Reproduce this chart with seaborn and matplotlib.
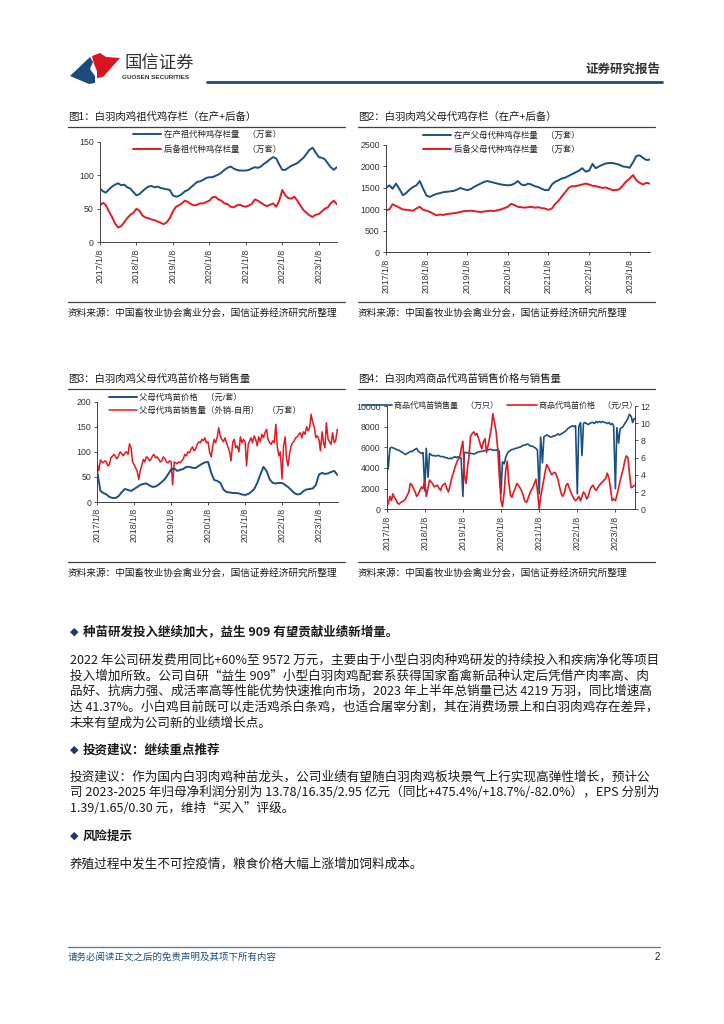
import matplotlib
matplotlib.use('Agg')
import matplotlib.pyplot as plt
from matplotlib.lines import Line2D
from matplotlib.patches import Polygon
import pandas as pd
import seaborn as sns

# ---- data (monthly / semi-monthly) ----
c1_zaichan = [80, 76, 74, 79, 83, 86, 88, 85, 86, 82, 80, 75,
              70, 72, 76, 80, 83, 84, 82, 83, 81, 80, 79, 78,
              70, 68, 69, 72, 76, 78, 82, 86, 90, 91, 93, 96,
              97, 97, 99, 101, 104, 108, 111, 113, 110, 108, 107, 107,
              107, 108, 110, 112, 111, 113, 117, 120, 124, 127, 125, 116,
              108, 108, 111, 114, 116, 118, 122, 126, 132, 138, 141, 134,
              127, 126, 124, 118, 112, 108, 112]
c1_houbei = [55, 59, 55, 46, 38, 28, 22, 24, 30, 36, 41, 44,
             50, 47, 40, 37, 36, 34, 33, 31, 29, 27, 30, 36,
             46, 53, 55, 58, 62, 60, 57, 55, 56, 58, 58, 60,
             62, 67, 68, 64, 62, 58, 57, 53, 52, 55, 56, 54,
             53, 55, 57, 64, 62, 59, 56, 54, 56, 58, 53, 62,
             78, 70, 66, 65, 68, 62, 55, 48, 44, 40, 38, 41,
             42, 46, 50, 52, 58, 62, 57]

c2_zaichan = [1500, 1560, 1480, 1600, 1480, 1330, 1380, 1460, 1520, 1560, 1660, 1480,
              1320, 1290, 1330, 1360, 1380, 1400, 1410, 1420, 1430, 1460, 1500, 1470,
              1450, 1470, 1520, 1560, 1600, 1640, 1660, 1640, 1620, 1600, 1580, 1570,
              1560, 1570, 1600, 1660, 1580, 1560, 1600, 1580, 1540, 1520, 1480, 1450,
              1450, 1580, 1640, 1680, 1720, 1740, 1780, 1820, 1860, 1900, 1960, 1880,
              1900, 2060, 1960, 2000, 2040, 2070, 2080, 2080, 2060, 2040, 2000, 1990,
              1970, 2100, 2240, 2260, 2200, 2150, 2160]
c2_houbei = [980, 1000, 1120, 1080, 1040, 1000, 990, 980, 970, 1020, 1060, 990,
             970, 940, 900, 860, 880, 870, 890, 900, 910, 920, 940, 960,
             960, 970, 960, 950, 940, 950, 960, 970, 960, 980, 1000, 1030,
             1060, 1130, 1100, 1060, 1050, 1040, 1050, 1060, 1040, 1050, 1030, 1020,
             990, 1020, 1120, 1200, 1300, 1400, 1500, 1540, 1540, 1560, 1580, 1600,
             1580, 1550, 1540, 1520, 1500, 1510, 1480, 1450, 1450, 1470, 1560, 1650,
             1720, 1800, 1680, 1620, 1580, 1620, 1600]

c3_price = [60, 22, 18, 15, 10, 8, 8, 12, 20, 26, 24, 22,
            26, 30, 34, 36, 37, 33, 30, 31, 35, 40, 46, 55,
            65, 67, 62, 64, 66, 70, 70, 68, 68, 72, 76, 79,
            80, 58, 44, 42, 38, 25, 20, 19, 18, 18, 17, 15,
            14, 16, 20, 26, 38, 55, 70, 62, 45, 38, 37, 38,
            38, 34, 30, 24, 18, 15, 16, 22, 25, 26, 27, 34,
            55, 58, 56, 57, 60, 62, 54]
c3_sales = [75, 62, 84, 80, 78, 82, 80, 72, 75, 88, 92, 95, 90, 86, 93, 100, 96, 92, 98, 100, 95, 116, 108, 80,
            74, 68, 60, 45, 62, 72, 85, 80, 90, 88, 82, 85, 92, 95, 88, 90, 85, 80, 82, 90, 86, 80, 78, 82,
            80, 34, 80, 78, 76, 80, 78, 82, 86, 95, 92, 100, 98, 105, 110, 102, 106, 115, 120, 118, 125, 122, 128, 118,
            120, 100, 90, 110, 125, 118, 130, 148, 132, 125, 120, 128, 118, 110, 100, 82, 120, 125, 108, 112, 100, 130, 118, 125,
            120, 72, 115, 122, 128, 118, 132, 125, 112, 130, 120, 135, 128, 138, 145, 125, 118, 115, 122, 118, 155, 110, 92, 100,
            46, 110, 130, 85, 72, 95, 112, 118, 122, 128, 130, 135, 138, 128, 140, 135, 150, 142, 148, 175, 158, 150, 128, 132,
            125, 102, 140, 118, 108, 158, 125, 120, 115, 138, 118, 122, 145]

c4_sales = [6000, 3900, 5900, 6000, 5950, 5900, 5800, 5750, 5700, 5600, 5500, 5400, 5300, 5400, 5500, 5600, 5600, 5700, 5800, 5900, 5600, 5500, 5400, 5500,
            1800, 5900, 3100, 5400, 5300, 5200, 5200, 5150, 5200, 5200, 5100, 5100, 5100, 5000, 5000, 4900, 4950, 4900, 5000, 5100, 5000, 5100, 5000, 4950,
            1250, 5500, 5500, 5450, 5500, 5400, 5400, 5350, 5400, 5500, 5550, 5600, 5600, 5650, 5700, 5700, 5750, 5800, 5800, 5700, 5750, 5700, 5800, 5600,
            1550, 4600, 4400, 5000, 5400, 5600, 5700, 5800, 5800, 5900, 5900, 6000, 6000, 6100, 6200, 6200, 6300, 6300, 6200, 6100, 6100, 6000, 5900, 5700,
            1500, 7000, 4500, 7000, 7100, 7200, 7100, 7000, 7000, 7100, 7100, 7200, 7300, 7200, 7300, 7400, 7500, 7600, 7800, 7900, 8000, 8100, 8000, 8100,
            1500, 8000, 8400, 5200, 8300, 8400, 8300, 8200, 8300, 8400, 8400, 8300, 8500, 8400, 8500, 8400, 8500, 8400, 8400, 8300, 8400, 8200, 8300, 8100,
            2000, 7900, 6400, 7800, 7900, 8000, 8300, 8500, 8800, 9200, 9000, 8400, 8800]
c4_price = [1.3, 0.6, 1.5, 1.0, 1.8, 1.4, 1.1, 0.7, 0.6, 0.8, 0.9, 1.0, 1.2, 1.6, 2.0, 3.0, 2.8, 2.4, 2.0, 1.5, 1.8, 2.2, 2.6, 2.4,
            3.4, 1.5, 2.5, 3.4, 3.2, 3.0, 2.6, 2.7, 2.8, 2.5, 2.2, 2.7, 2.9, 3.0, 2.4, 2.0, 2.8, 3.6, 4.2, 4.8, 5.4, 5.8, 6.0, 7.0,
            7.9, 4.0, 3.0, 5.0, 6.2, 8.5, 8.8, 9.0, 8.6, 8.8, 8.2, 7.6, 7.0, 7.8, 8.2, 6.6, 7.5, 8.4, 9.5, 11.1, 10.0, 9.0, 7.0, 4.0,
            1.0, 0.3, 2.0, 4.5, 5.6, 3.2, 1.6, 1.4, 2.0, 2.4, 3.0, 2.8, 2.5, 2.2, 1.6, 1.0, 0.8, 1.2, 1.8, 2.2, 2.5, 3.0, 3.5, 2.2,
            0.0, 1.5, 2.6, 3.5, 4.5, 5.2, 4.8, 4.4, 4.0, 4.2, 4.3, 4.0, 3.4, 2.6, 1.8, 1.5, 2.0, 2.8, 3.0, 2.5, 2.0, 1.6, 1.2, 1.0,
            1.2, 1.5, 1.0, 1.5, 2.0, 1.8, 1.2, 1.5, 2.2, 2.6, 2.8, 2.4, 2.2, 2.5, 2.8, 3.0, 3.2, 3.4, 3.6, 4.2, 3.6, 2.4, 1.0, 1.2,
            1.0, 1.6, 2.5, 3.2, 4.0, 4.6, 5.6, 6.2, 6.0, 4.2, 2.5, 2.6, 2.8]

tick_dates = ['2017-01-08', '2018-01-08', '2019-01-08', '2020-01-08',
              '2021-01-08', '2022-01-08', '2023-01-08']

BLUE = '#1b4f85'
RED = '#e11b22'
GREY = '#404040'

def monthly(vals):
    return pd.date_range('2017-01-01', periods=len(vals), freq='MS') + pd.Timedelta(days=7)

def semimonthly(vals):
    return pd.date_range('2017-01-01', periods=len(vals), freq='SMS') + pd.Timedelta(days=7)

sns.set_theme(style='white')
plt.rcParams['font.family'] = ['Liberation Sans', 'Noto Sans CJK SC', 'DejaVu Sans']
plt.rcParams['axes.unicode_minus'] = False

W, H = 724, 1024
fig = plt.figure(figsize=(W / 100, H / 100), dpi=100)
fig.patch.set_facecolor('white')

def rect(l, t, r, b):
    return [l / W, 1 - b / H, (r - l) / W, (b - t) / H]

def hline(x0, x1, y, color=GREY, lw=0.8):
    fig.add_artist(Line2D([x0 / W, x1 / W], [1 - y / H, 1 - y / H],
                          transform=fig.transFigure, color=color, lw=lw))

def text(x, y, s, **kw):
    kw.setdefault('va', 'center')
    fig.text(x / W, 1 - y / H, s, **kw)

def style_axis(ax, ylim, yticks):
    ax.set_xlim(pd.Timestamp('2017-01-08'), pd.Timestamp('2023-07-10'))
    ax.set_ylim(*ylim)
    ax.set_yticks(yticks)
    ticks = pd.to_datetime(tick_dates)
    ax.set_xticks(ticks)
    ax.set_xticklabels([f'{d.year}/{d.month}/{d.day}' for d in ticks], rotation=90)
    for s in ['top', 'right']:
        ax.spines[s].set_visible(False)
    for s in ['left', 'bottom']:
        ax.spines[s].set_color(GREY)
        ax.spines[s].set_linewidth(0.7)
    ax.tick_params(axis='both', labelsize=6.3, colors='#333333', length=2.5,
                   width=0.6, pad=2, bottom=True, left=True)
    ax.set_xlabel('')
    ax.set_ylabel('')
    ax.set_facecolor('none')

def place_legend(ax, x, y, lw_len, spacing, **kw):
    leg = ax.legend(loc='upper left', bbox_to_anchor=(x / W, 1 - y / H),
                    bbox_transform=fig.transFigure, frameon=False, fontsize=6,
                    borderpad=0, borderaxespad=0, handlelength=lw_len,
                    handletextpad=0.3, labelspacing=spacing, **kw)
    for t in leg.get_texts():
        t.set_color('#222222')
    return leg

# ---- chart 1 ----
ax1 = fig.add_axes(rect(100, 141.7, 337, 242.3))
sns.lineplot(x=monthly(c1_zaichan), y=c1_zaichan, ax=ax1, color=BLUE, lw=1.4,
             label='在产祖代种鸡存栏量　（万套）')
sns.lineplot(x=monthly(c1_houbei), y=c1_houbei, ax=ax1, color=RED, lw=1.4,
             label='后备祖代种鸡存栏量　（万套）')
style_axis(ax1, (0, 150), [0, 50, 100, 150])
place_legend(ax1, 133, 130.5, 3.4, 0.7)

# ---- chart 2 ----
ax2 = fig.add_axes(rect(386, 145, 650, 252.3))
sns.lineplot(x=monthly(c2_zaichan), y=c2_zaichan, ax=ax2, color=BLUE, lw=1.4,
             label='在产父母代种鸡存栏量　（万套）')
sns.lineplot(x=monthly(c2_houbei), y=c2_houbei, ax=ax2, color=RED, lw=1.4,
             label='后备父母代种鸡存栏量　（万套）')
style_axis(ax2, (0, 2500), [0, 500, 1000, 1500, 2000, 2500])
place_legend(ax2, 423, 131.5, 3.4, 0.7)

# ---- chart 3 ----
ax3 = fig.add_axes(rect(97.3, 401.7, 337.5, 502))
sns.lineplot(x=monthly(c3_price), y=c3_price, ax=ax3, color=BLUE, lw=1.4,
             label='父母代鸡苗价格　（元/套）', zorder=3)
sns.lineplot(x=semimonthly(c3_sales), y=c3_sales, ax=ax3, color=RED, lw=1.1,
             label='父母代鸡苗销售量（外销-自用）　（万套）', zorder=2)
style_axis(ax3, (0, 200), [0, 50, 100, 150, 200])
place_legend(ax3, 109, 393.5, 3.3, 0.55)

# ---- chart 4 ----
ax4 = fig.add_axes(rect(386.7, 406, 634.5, 509.3))
ax4r = ax4.twinx()
sns.lineplot(x=semimonthly(c4_sales), y=c4_sales, ax=ax4, color=BLUE, lw=1.2,
             label='商品代鸡苗销售量　（万只）')
sns.lineplot(x=semimonthly(c4_price), y=c4_price, ax=ax4r, color=RED, lw=1.2,
             label='商品代鸡苗价格　（元/只）')
style_axis(ax4, (0, 10000), [0, 2000, 4000, 6000, 8000, 10000])
ax4r.set_ylim(0, 12)
ax4r.set_yticks([0, 2, 4, 6, 8, 10, 12])
ax4r.set_ylabel('')
for s in ['top', 'left', 'bottom']:
    ax4r.spines[s].set_visible(False)
ax4r.spines['right'].set_color(GREY)
ax4r.spines['right'].set_linewidth(0.7)
ax4r.tick_params(axis='y', labelsize=6.3, colors='#333333', length=2.5, width=0.6,
                 pad=2, right=True)
if ax4.get_legend() is not None:
    ax4.get_legend().remove()
h1, l1 = ax4.get_legend_handles_labels()
h2, l2 = ax4r.get_legend_handles_labels()
leg4 = ax4r.legend(h1 + h2, l1 + l2, loc='upper left', ncol=2,
                   bbox_to_anchor=(362 / W, 1 - 402 / H), bbox_transform=fig.transFigure,
                   frameon=False, fontsize=5.8, borderpad=0, borderaxespad=0,
                   handlelength=3.7, handletextpad=0.3, columnspacing=1.1)
leg4.set_zorder(10)

# ---- chart frames: titles, rules, sources ----
src = '资料来源：中国畜牧业协会禽业分会，国信证券经济研究所整理'
for x0, x1, ty, t0, b0, title in [
        (68, 345, 116.5, 126.5, 302, '图1：白羽肉鸡祖代鸡存栏（在产+后备）'),
        (358, 655, 116.5, 126.5, 302, '图2：白羽肉鸡父母代鸡存栏（在产+后备）'),
        (68, 345, 379, 388.5, 562, '图3：白羽肉鸡父母代鸡苗价格与销售量'),
        (358, 655, 379, 388.5, 562, '图4：白羽肉鸡商品代鸡苗销售价格与销售量')]:
    text(x0, ty, title, fontsize=7.5, color='#1a1a1a')
    hline(x0, x1, t0, lw=0.9)
    hline(x0, x1, b0, lw=0.9)
    text(x0, b0 + 10.5, src, fontsize=6.95, color='#1a1a1a')

# ---- page header ----
fig.add_artist(Polygon([(70 / W, 1 - 76 / H), (90 / W, 1 - 57 / H), (93 / W, 1 - 62 / H),
                        (90 / W, 1 - 69 / H), (95 / W, 1 - 76 / H), (95 / W, 1 - 83 / H),
                        (89 / W, 1 - 84 / H)],
                       closed=True, transform=fig.transFigure, color='#1b4a7c', lw=0))
fig.add_artist(Polygon([(92 / W, 1 - 56 / H), (100 / W, 1 - 53 / H), (106 / W, 1 - 57 / H),
                        (120 / W, 1 - 58 / H), (112 / W, 1 - 67 / H), (103 / W, 1 - 77 / H),
                        (97 / W, 1 - 78 / H), (97 / W, 1 - 71 / H), (94 / W, 1 - 64 / H)],
                       closed=True, transform=fig.transFigure, color='#d7141f', lw=0))
text(125, 63.5, '国信证券', fontsize=12.5, color='#333333', family=['Noto Sans CJK SC'])
text(122, 77.5, 'GUOSEN SECURITIES', fontsize=4.6, color='#333333', weight='bold')
hline(207, 662, 82, color='#1b4a7c', lw=2.0)
text(660, 69, '证券研究报告', fontsize=9, color='#333333', ha='right', weight='bold',
     family=['Noto Sans CJK SC'])

# ---- body text ----
BODY = ['Noto Sans CJK SC', 'DejaVu Sans']
def bullet(y, s):
    text(70, y, '◆', fontsize=8, color='#1b3a6b', family=['DejaVu Sans'])
    text(83, y, s, fontsize=9.0, color='#1a1a1a', weight='bold', family=BODY)

def para(y0, lines):
    for i, s in enumerate(lines):
        text(70, y0 + i * 15.8, s, fontsize=9.05, color='#1a1a1a', family=BODY)

bullet(632, '种苗研发投入继续加大，益生 909 有望贡献业绩新增量。')
para(660, ['2022 年公司研发费用同比+60%至 9572 万元，主要由于小型白羽肉种鸡研发的持续投入和疾病净化等项目',
           '投入增加所致。公司自研“益生 909”小型白羽肉鸡配套系获得国家畜禽新品种认定后凭借产肉率高、肉',
           '品好、抗病力强、成活率高等性能优势快速推向市场，2023 年上半年总销量已达 4219 万羽，同比增速高',
           '达 41.37%。小白鸡目前既可以走活鸡杀白条鸡，也适合屠宰分割，其在消费场景上和白羽肉鸡存在差异，',
           '未来有望成为公司新的业绩增长点。'])
bullet(750, '投资建议：继续重点推荐')
para(777, ['投资建议：作为国内白羽肉鸡种苗龙头，公司业绩有望随白羽肉鸡板块景气上行实现高弹性增长，预计公',
           '司 2023-2025 年归母净利润分别为 13.78/16.35/2.95 亿元（同比+475.4%/+18.7%/-82.0%），EPS 分别为',
           '1.39/1.65/0.30 元，维持“买入”评级。'])
bullet(836, '风险提示')
para(864, ['养殖过程中发生不可控疫情，粮食价格大幅上涨增加饲料成本。'])

# ---- footer ----
hline(68, 660, 947, color='#4a77a8', lw=0.9)
text(68, 957, '请务必阅读正文之后的免责声明及其项下所有内容', fontsize=6.8, color='#1f4e79',
     style='italic', family=BODY)
text(660, 957, '2', fontsize=7, color='#1a1a1a', ha='right')

fig.savefig('out.png', dpi=100, facecolor='white')
